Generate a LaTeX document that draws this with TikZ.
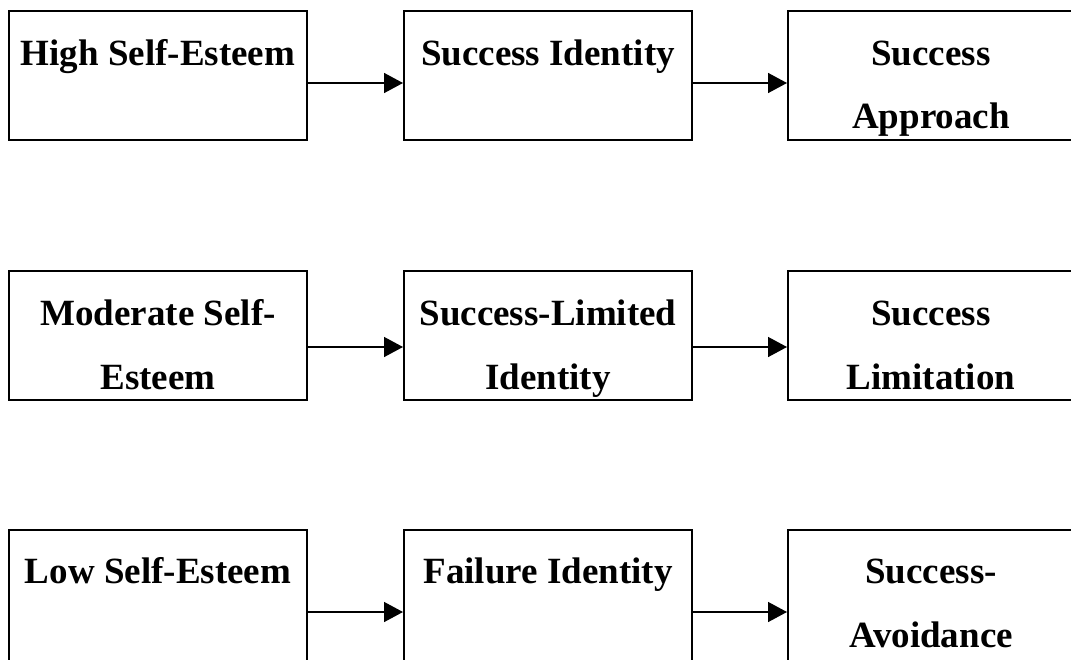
\documentclass[tikz,border=0pt]{standalone}
\usepackage{fontspec}
\setmainfont{Liberation Serif}
\usetikzlibrary{arrows.meta}
\begin{document}
\begin{tikzpicture}[x=1pt,y=-1pt,
  box/.style={draw=black,line width=2pt,rectangle,inner sep=0pt},
  lbl/.style={anchor=base,inner sep=0pt,font=\fontsize{37}{37}\selectfont\bfseries},
  flow/.style={line width=1.5pt,-{Triangle[length=19pt,width=20pt]}}]
\useasboundingbox (0,0) rectangle (1071,659);
\clip (0,0) rectangle (1071,659);
\fill[white] (0,0) rectangle (1071,659);
% row 1
\node[box,minimum width=298pt,minimum height=129pt] (a1) at (158,75.5) {};
\node[box,minimum width=288pt,minimum height=129pt] (a2) at (548,75.5) {};
\node[box,minimum width=286pt,minimum height=129pt] (a3) at (931,75.5) {};
\node[lbl] (ta1) at (158,65) {High Self-Esteem};
\node[lbl] (ta2) at (548,65) {Success Identity};
\node[lbl] (ta3a) at (931,65) {Success};
\node[lbl] (ta3b) at (931,128) {Approach};
% row 2
\node[box,minimum width=298pt,minimum height=129pt] (b1) at (158,335.5) {};
\node[box,minimum width=288pt,minimum height=129pt] (b2) at (548,335.5) {};
\node[box,minimum width=286pt,minimum height=129pt] (b3) at (931,335.5) {};
\node[lbl] (tb1a) at (158,325) {Moderate Self-};
\node[lbl] (tb1b) at (158,389) {Esteem};
\node[lbl] (tb2a) at (548,325) {Success-Limited};
\node[lbl] (tb2b) at (548,389) {Identity};
\node[lbl] (tb3a) at (931,325) {Success};
\node[lbl] (tb3b) at (931,389) {Limitation};
% row 3 (continues below the picture's lower edge)
\node[box,minimum width=298pt,minimum height=180pt] (c1) at (158,620) {};
\node[box,minimum width=288pt,minimum height=180pt] (c2) at (548,620) {};
\node[box,minimum width=286pt,minimum height=180pt] (c3) at (931,620) {};
\node[lbl] (tc1) at (158,583) {Low Self-Esteem};
\node[lbl] (tc2) at (548,583) {Failure Identity};
\node[lbl] (tc3a) at (931,583) {Success-};
\node[lbl] (tc3b) at (931,647) {Avoidance};
% arrows
\draw[flow] (a1.east |- 0,83) -- (a2.west |- 0,83);
\draw[flow] (a2.east |- 0,83) -- (a3.west |- 0,83);
\draw[flow] (b1.east |- 0,347) -- (b2.west |- 0,347);
\draw[flow] (b2.east |- 0,347) -- (b3.west |- 0,347);
\draw[flow] (c1.east |- 0,612) -- (c2.west |- 0,612);
\draw[flow] (c2.east |- 0,612) -- (c3.west |- 0,612);
\end{tikzpicture}
\end{document}
